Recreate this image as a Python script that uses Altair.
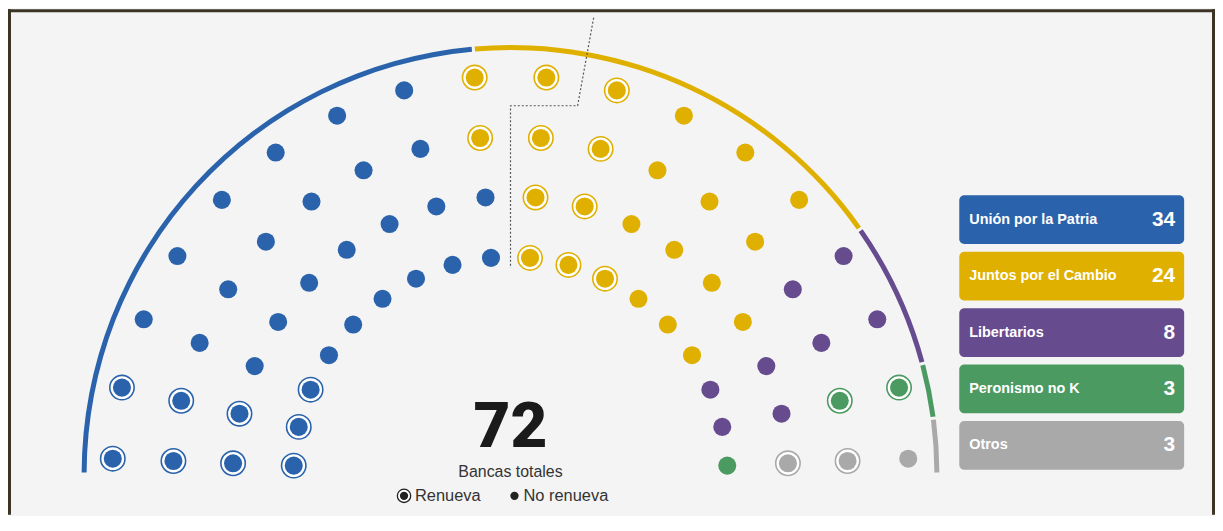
import math
import altair as alt
import pandas as pd

# ---------------- data ----------------
parties = ["Unión por la Patria", "Juntos por el Cambio", "Libertarios", "Peronismo no K", "Otros"]
seats = [34, 24, 8, 3, 3]
colors = ["#2a63ab", "#e0b000", "#664b8f", "#4b9a61", "#a9a9a9"]
# seats of each party per ring (inner -> outer), read left to right
ring_seats = [[9, 6, 2, 1, 0], [9, 6, 2, 0, 1], [8, 6, 2, 1, 1], [8, 6, 2, 1, 1]]
# how many of those seats (the first ones, left to right) are renewed
ring_renueva = [[3, 3, 0, 0, 0], [2, 2, 0, 0, 1], [2, 3, 0, 1, 1], [2, 3, 0, 1, 0]]
total_seats = 72
majority = 37
center_sub = "Bancas totales"
legend_labels = ["Renueva", "No renueva"]

# ---------------- layout ----------------
W, H = 1213, 508
CX, CY = 505, 467            # hemicycle centre in chart pixels
ring_r = [218, 279, 339, 400]
a0 = 2.2                     # first seat angle offset (deg)
per_ring = 18
step = (180 - 2 * a0) / (per_ring - 1)

xs = alt.Scale(domain=[-CX, W - CX], nice=False, zero=False)
ys = alt.Scale(domain=[CY - H, CY], nice=False, zero=False)
cs = alt.Scale(domain=parties, range=colors)


def X(f):
    return alt.X(f, scale=xs, axis=None)


def Y(f):
    return alt.Y(f, scale=ys, axis=None)


rows = []
for r, counts in enumerate(ring_seats):
    j = 0
    for p, n in enumerate(counts):
        for k in range(n):
            ang = math.radians(180 - a0 - j * step)
            rows.append({
                "party": parties[p],
                "ring": r,
                "renueva": k < ring_renueva[r][p],
                "x": ring_r[r] * math.cos(ang),
                "y": ring_r[r] * math.sin(ang),
            })
            j += 1
seat_df = pd.DataFrame(rows)

# outer arc segments
cum = 0
arc_rows = []
for p, n in zip(parties, seats):
    arc_rows.append({"party": p, "start": cum, "end": cum + n, "cx": 0, "cy": 0})
    cum += n
arc_df = pd.DataFrame(arc_rows)

arcs = alt.Chart(arc_df).mark_arc(radius=431, radius2=426, padAngle=0.005).encode(
    x=X("cx:Q"), y=Y("cy:Q"),
    theta=alt.Theta("start:Q", scale=alt.Scale(domain=[0, total_seats], range=[-math.pi / 2, math.pi / 2]), stack=None),
    theta2="end:Q",
    color=alt.Color("party:N", scale=cs, legend=None),
)

# majority line: radial between outer-ring seats 9/10, then along centre axis
th = math.radians(180 - a0 - 9.5 * step)
y_h = 370
maj_df = pd.DataFrame({
    "o": [0, 1, 2, 3],
    "x": [466 * math.cos(th), y_h / math.tan(th), 0, 0],
    "y": [466 * math.sin(th), y_h, y_h, 207],
})
maj = alt.Chart(maj_df).mark_line(color="#555555", strokeDash=[2, 2], strokeWidth=1.2).encode(
    x=X("x:Q"), y=Y("y:Q"), order="o:Q"
)

rings = alt.Chart(seat_df[seat_df["renueva"]]).mark_point(
    shape="circle", filled=True, fill="white", size=600, strokeWidth=1.6, opacity=1
).encode(x=X("x:Q"), y=Y("y:Q"), stroke=alt.Stroke("party:N", scale=cs, legend=None))

dots = alt.Chart(seat_df).mark_point(shape="circle", filled=True, size=330, opacity=1).encode(
    x=X("x:Q"), y=Y("y:Q"), color=alt.Color("party:N", scale=cs, legend=None)
)

# right-hand party boxes
box_df = pd.DataFrame({
    "party": parties,
    "seats": seats,
    "i": list(range(len(parties))),
})
box_df["y1"] = 280 - box_df["i"] * 56.7
box_df["y2"] = box_df["y1"] - 49
box_df["ym"] = (box_df["y1"] + box_df["y2"]) / 2
box_df["x1"] = 451
box_df["x2"] = 677
box_df["xl"] = 461
box_df["xn"] = 668

boxes = alt.Chart(box_df).mark_rect(cornerRadius=5).encode(
    x=X("x1:Q"), x2="x2:Q", y=Y("y1:Q"), y2="y2:Q",
    color=alt.Color("party:N", scale=cs, legend=None),
)
box_lab = alt.Chart(box_df).mark_text(
    align="left", baseline="middle", color="white", font="Liberation Sans",
    fontWeight="bold", fontSize=14.5
).encode(x=X("xl:Q"), y=Y("ym:Q"), text="party:N")
box_num = alt.Chart(box_df).mark_text(
    align="right", baseline="middle", color="white", font="Liberation Sans",
    fontWeight="bold", fontSize=21
).encode(x=X("xn:Q"), y=Y("ym:Q"), text="seats:Q")

# centre texts
ctr_df = pd.DataFrame({"x": [0], "y": [27], "t": [str(total_seats)]})
big = alt.Chart(ctr_df).mark_text(
    align="center", baseline="alphabetic", font="Roboto", fontWeight=900, fontSize=64,
    color="#1a1a1a"
).encode(x=X("x:Q"), y=Y("y:Q"), text="t:N")
sub_df = pd.DataFrame({"x": [0], "y": [2], "t": [center_sub]})
sub = alt.Chart(sub_df).mark_text(
    align="center", baseline="middle", font="Liberation Sans", fontSize=16, color="#333333"
).encode(x=X("x:Q"), y=Y("y:Q"), text="t:N")

# renueva / no renueva legend
lg_df = pd.DataFrame({"t": legend_labels, "xs": [-107, 4], "xt": [-96, 13], "y": [-22, -22]})
lg_text = alt.Chart(lg_df).mark_text(
    align="left", baseline="middle", font="Liberation Sans", fontSize=16.5, color="#333333"
).encode(x=X("xt:Q"), y=Y("y:Q"), text="t:N")
lg_ring = alt.Chart(lg_df.iloc[[0]]).mark_point(
    shape="circle", filled=True, fill="white", stroke="#222222", strokeWidth=1.3, size=180, opacity=1
).encode(x=X("xs:Q"), y=Y("y:Q"))
lg_dot = alt.Chart(lg_df).mark_point(
    shape="circle", filled=True, color="#222222", size=70, opacity=1
).encode(x=X("xs:Q"), y=Y("y:Q"))

# frame (top, left, right), kept inside the chart bounds
inset = 1.5
fr_df = pd.DataFrame({
    "x": [-CX, -CX + inset, W - CX - inset],
    "x2": [W - CX, -CX + inset, W - CX - inset],
    "y": [CY - inset, CY, CY],
    "y2": [CY - inset, CY - H, CY - H],
})
frame = alt.Chart(fr_df).mark_rule(color="#3b3424", strokeWidth=3, strokeCap="butt").encode(
    x=X("x:Q"), x2="x2:Q", y=Y("y:Q"), y2="y2:Q"
)

chart = alt.layer(
    arcs, maj, rings, dots, boxes, box_lab, box_num, big, sub, lg_text, lg_ring, lg_dot, frame
).properties(
    width=W, height=H, padding=0, background="#f4f4f4",
    autosize=alt.AutoSizeParams(type="none"),
).configure_view(stroke=None)

chart.save("out.html", embed_options={"renderer": "svg", "actions": False})
